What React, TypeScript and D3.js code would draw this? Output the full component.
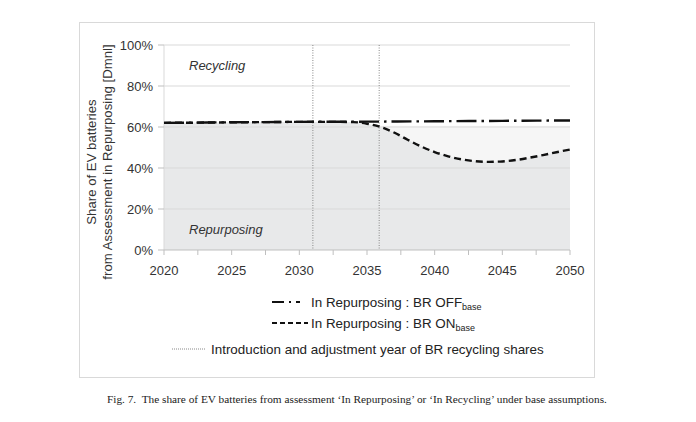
import React, { useMemo } from 'react';
import * as d3 from 'd3';

// BR OFF (base): share stays roughly flat
const offYears = [2020, 2025, 2030, 2035, 2040, 2045, 2050];
const offShare = [0.62, 0.623, 0.625, 0.626, 0.628, 0.63, 0.632];

// BR ON (base): follows OFF until the recycling shares kick in, then dips
const onYears = [
  2020, 2021, 2022, 2023, 2024, 2025, 2026, 2027, 2028, 2029, 2030, 2031, 2032, 2033, 2034, 2035,
  2036, 2037, 2038, 2039, 2040, 2041, 2042, 2043, 2044, 2045, 2046, 2047, 2048, 2049, 2050,
];
const onShare = [
  0.62, 0.621, 0.621, 0.622, 0.622, 0.623, 0.623, 0.624, 0.624, 0.625, 0.625, 0.625, 0.625, 0.625,
  0.624, 0.616, 0.6, 0.573, 0.538, 0.505, 0.478, 0.457, 0.442, 0.433, 0.43, 0.432, 0.439, 0.45,
  0.463, 0.477, 0.49,
];

// light band behind the BR ON dip
const bandYears = [2020, 2050];
const bandShare = [0.606, 0.606];

// introduction / adjustment years of BR recycling shares
const markerYears = [2031, 2035.9];

const xTicks = [2020, 2025, 2030, 2035, 2040, 2045, 2050];
const xMinorTicks = d3.range(2020, 2050.01, 2.5);
const yTicks = [0, 0.2, 0.4, 0.6, 0.8, 1];

const FONT = '"Liberation Sans", Arial, sans-serif';

type Pt = { year: number; v: number };

export default function App() {
  const x = useMemo(() => d3.scaleLinear().domain([2020, 2050]).range([164, 570]), []);
  const y = useMemo(() => d3.scaleLinear().domain([0, 1]).range([250, 45]), []);

  const offData: Pt[] = offYears.map((year, i) => ({ year, v: offShare[i] }));
  const onData: Pt[] = onYears.map((year, i) => ({ year, v: onShare[i] }));
  const bandData: Pt[] = bandYears.map((year, i) => ({ year, v: bandShare[i] }));

  const line = d3
    .line<Pt>()
    .x((d) => x(d.year))
    .y((d) => y(d.v))
    .curve(d3.curveMonotoneX);
  const area = d3
    .area<Pt>()
    .x((d) => x(d.year))
    .y0(y(0))
    .y1((d) => y(d.v))
    .curve(d3.curveMonotoneX);

  const [x0, x1] = x.range();

  return (
    <svg
      width={696}
      height={422}
      style={{ position: 'absolute', left: 0, top: 0, background: '#fff' }}
    >
      {/* chart frame */}
      <rect x={79.5} y={22.5} width={515} height={355} fill="#fff" stroke="#d9d9d9" />

      {/* filled areas */}
      <path d={area(bandData) || ''} fill="#f6f6f6" />
      <path d={area(onData) || ''} fill="#e8e9ea" />

      {/* gridlines */}
      {yTicks
        .filter((t) => t > 0)
        .map((t) => (
          <line key={t} x1={x0} x2={x1} y1={y(t)} y2={y(t)} stroke="#d9d9d9" strokeWidth={1} />
        ))}

      {/* y axis */}
      <line x1={x0} x2={x0} y1={y(1)} y2={y(0)} stroke="#d9d9d9" />
      {yTicks.map((t) => (
        <g key={t}>
          <line x1={x0 - 6} x2={x0} y1={y(t)} y2={y(t)} stroke="#bfbfbf" />
          <text
            x={153}
            y={y(t) + 4.5}
            textAnchor="end"
            fontFamily={FONT}
            fontSize={13}
            fill="#333"
          >
            {`${Math.round(t * 100)}%`}
          </text>
        </g>
      ))}

      {/* x axis */}
      <line x1={x0} x2={x1} y1={y(0)} y2={y(0)} stroke="#bfbfbf" />
      {xMinorTicks.map((t) => (
        <line key={t} x1={x(t)} x2={x(t)} y1={y(0)} y2={y(0) + 5} stroke="#bfbfbf" />
      ))}
      {xTicks.map((t) => (
        <text
          key={t}
          x={x(t)}
          y={275}
          textAnchor="middle"
          fontFamily={FONT}
          fontSize={13}
          fill="#333"
        >
          {t}
        </text>
      ))}

      {/* vertical markers */}
      {markerYears.map((t) => (
        <line
          key={t}
          x1={x(t)}
          x2={x(t)}
          y1={y(1)}
          y2={y(0)}
          stroke="#888"
          strokeWidth={1}
          strokeDasharray="1 1.5"
        />
      ))}

      {/* series */}
      <path
        d={line(onData) || ''}
        fill="none"
        stroke="#111"
        strokeWidth={2.4}
        strokeDasharray="7 4"
      />
      <path
        d={line(offData) || ''}
        fill="none"
        stroke="#111"
        strokeWidth={2.4}
        strokeDasharray="20 5 2.5 5"
      />

      {/* region labels */}
      <text x={189} y={70} fontFamily={FONT} fontSize={13} fontStyle="italic" fill="#333">
        Recycling
      </text>
      <text x={189} y={234} fontFamily={FONT} fontSize={13} fontStyle="italic" fill="#333">
        Repurposing
      </text>

      {/* y axis title */}
      <g transform="translate(100,162) rotate(-90)" fontFamily={FONT} fontSize={13.2} fill="#333">
        <text x={0} y={-4} textAnchor="middle">
          Share of EV batteries
        </text>
        <text x={0} y={12} textAnchor="middle">
          from Assessment in Repurposing [Dmnl]
        </text>
      </g>

      {/* legend */}
      <g fontFamily={FONT} fontSize={13.4} fill="#222">
        <line x1={272} x2={308} y1={302} y2={302} stroke="#111" strokeWidth={2} strokeDasharray="12 5 2 5 4" />
        <text x={311} y={307}>
          In Repurposing : BR OFF
          <tspan fontSize={9} dy={3}>
            base
          </tspan>
        </text>
        <line x1={272} x2={308} y1={323} y2={323} stroke="#111" strokeWidth={2} strokeDasharray="5 3" />
        <text x={311} y={328}>
          In Repurposing : BR ON
          <tspan fontSize={9} dy={3}>
            base
          </tspan>
        </text>
        <line x1={172} x2={206} y1={349} y2={349} stroke="#888" strokeWidth={1} strokeDasharray="1 1" />
        <text x={211} y={354}>
          Introduction and adjustment year of BR recycling shares
        </text>
      </g>

      {/* caption */}
      <text
        x={107}
        y={403}
        fontFamily={'"Liberation Serif", "Times New Roman", serif'}
        fontSize={11.3}
        fill="#222"
        style={{ whiteSpace: 'pre' }}
      >
        {'Fig. 7.  The share of EV batteries from assessment ‘In Repurposing’ or ‘In Recycling’ under base assumptions.'}
      </text>
    </svg>
  );
}
